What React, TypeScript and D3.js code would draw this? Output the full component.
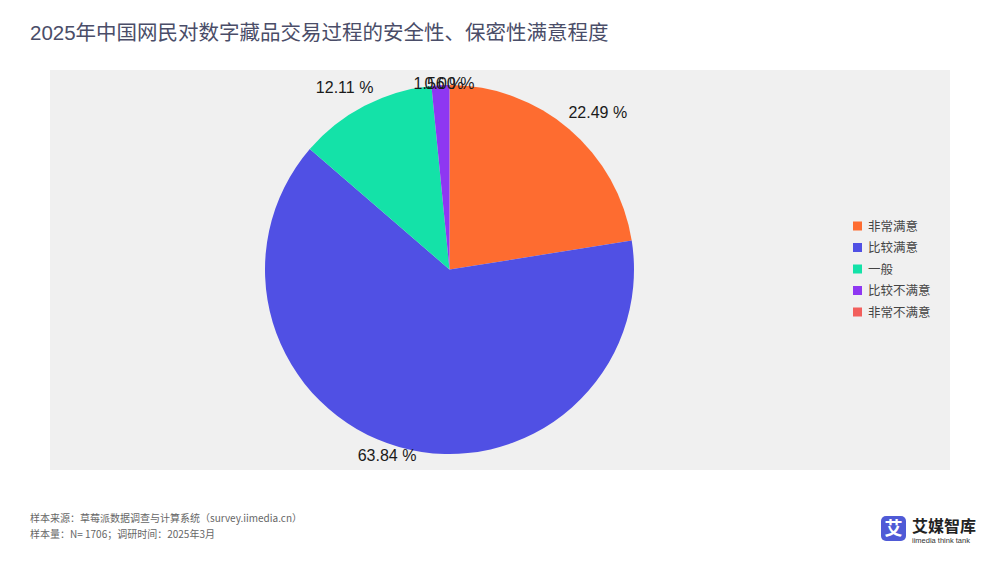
import React from 'react';
import * as d3 from 'd3';

const title = '2025年中国网民对数字藏品交易过程的安全性、保密性满意程度';
const categories = ['非常满意', '比较满意', '一般', '比较不满意', '非常不满意'];
const values = [22.49, 63.84, 12.11, 1.56, 0.0];
const colors = ['#FE6C30', '#5050E4', '#14E2A8', '#8E37F2', '#F25F5C'];
const footnotes = [
  '样本来源：草莓派数据调查与计算系统（survey.iimedia.cn）',
  '样本量：N= 1706；调研时间：2025年3月',
];

const W = 1000;
const H = 563;
const plot = { x: 50, y: 70, w: 900, h: 400 };
const cx = 449.5;
const cy = 269.5;
const R = 184.5;
const labelFont = '16px "Liberation Sans", Arial, sans-serif';

function measure(text: string, font: string): number {
  const c = document.createElement('canvas').getContext('2d');
  if (!c) return text.length * 8;
  c.font = font;
  return c.measureText(text).width;
}

export default function App() {
  const pie = d3
    .pie<number>()
    .sort(null)
    .value((d) => d)
    .startAngle(0)
    .endAngle(2 * Math.PI);
  const arcs = pie(values);
  const arcGen = d3.arc<d3.PieArcDatum<number>>().innerRadius(0).outerRadius(R);
  const fmt = d3.format('.2f');
  const legendY = d3.scalePoint<string>().domain(categories).range([226, 312]);

  return (
    <svg width={W} height={H} style={{ display: 'block', position: 'absolute', left: 0, top: 0 }}>
      <rect x={0} y={0} width={W} height={H} fill="#ffffff" />
      <text
        x={30}
        y={40}
        fontSize={20.5}
        fill="#4a4d68"
        fontFamily='"Liberation Sans", Arial, "Noto Sans CJK SC", sans-serif'
      >
        {title}
      </text>
      <rect x={plot.x} y={plot.y} width={plot.w} height={plot.h} fill="#f0f0f0" />
      <g transform={`translate(${cx},${cy})`}>
        {arcs.map((a, i) => (
          <path key={i} d={arcGen(a) || ''} fill={colors[i]} />
        ))}
      </g>
      {arcs.map((a, i) => {
        const mid = (a.startAngle + a.endAngle) / 2;
        const s = Math.sin(mid);
        const c = Math.cos(mid);
        const label = `${fmt(values[i])} %`;
        const w = measure(label, labelFont);
        const D = R + 14.5;
        const x = cx + D * s + (s * w) / 2;
        let y = cy - D * c;
        if (y < plot.y + 19) y = plot.y + 19;
        return (
          <text
            key={i}
            x={x}
            y={y}
            textAnchor="middle"
            fontSize={16}
            fill="#1a1a1a"
            fontFamily='"Liberation Sans", Arial, sans-serif'
          >
            {label}
          </text>
        );
      })}
      <g>
        {categories.map((cat, i) => {
          const y = legendY(cat) as number;
          return (
            <g key={cat}>
              <rect x={853} y={y - 4.5} width={9} height={9} fill={colors[i]} />
              <text
                x={868}
                y={y + 4.5}
                fontSize={12.5}
                fill="#444"
                fontFamily='"Noto Sans CJK SC", sans-serif'
              >
                {cat}
              </text>
            </g>
          );
        })}
      </g>
      {footnotes.map((t, i) => (
        <text
          key={i}
          x={30}
          y={522 + i * 16}
          fontSize={10}
          fill="#666"
          fontFamily='"Noto Sans CJK SC", "Liberation Sans", sans-serif'
        >
          {t}
        </text>
      ))}
      <g>
        <rect x={881} y={516} width={25} height={25} rx={5} fill="#4f5ad6" />
        <text
          x={893.5}
          y={535}
          textAnchor="middle"
          fontSize={18}
          fontWeight="bold"
          fill="#ffffff"
          fontFamily='"Noto Sans CJK SC", sans-serif'
        >
          艾
        </text>
        <text
          x={912}
          y={532}
          fontSize={16}
          fontWeight="bold"
          fill="#222"
          fontFamily='"Noto Sans CJK SC", sans-serif'
        >
          艾媒智库
        </text>
        <text
          x={912}
          y={543}
          fontSize={7.5}
          fill="#333"
          fontFamily='"Liberation Sans", Arial, sans-serif'
        >
          iimedia think tank
        </text>
      </g>
    </svg>
  );
}
